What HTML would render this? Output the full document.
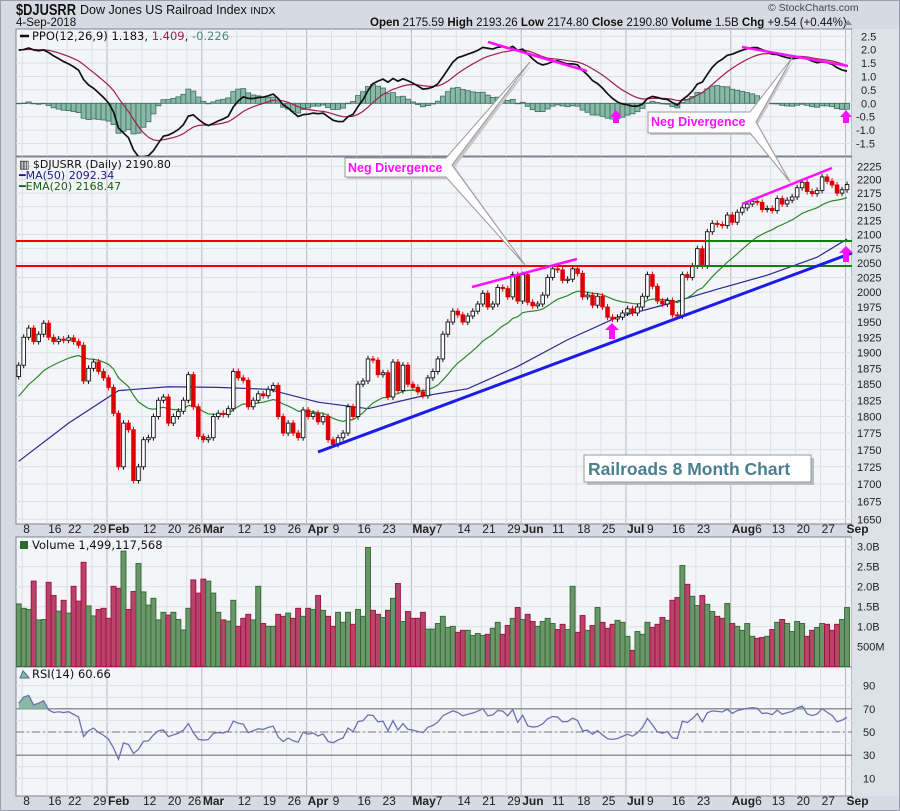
<!DOCTYPE html>
<html><head><meta charset="utf-8"><style>
html,body{margin:0;padding:0;background:#d5dae3;}
svg{display:block;font-family:"Liberation Sans",sans-serif;}
</style></head><body>
<svg id="chart" width="900" height="811" viewBox="0 0 900 811" xmlns="http://www.w3.org/2000/svg">
<defs>
<clipPath id="cPrice"><rect x="16" y="157" width="836" height="367"/></clipPath>
<clipPath id="cPPO"><rect x="16" y="29" width="836" height="127"/></clipPath>
<clipPath id="cVol"><rect x="16" y="537" width="836" height="130"/></clipPath>
<clipPath id="cRSI"><rect x="16" y="667" width="836" height="129"/></clipPath>
</defs>
<rect x="0" y="0" width="900" height="811" fill="#d5dae3"/>
<rect x="0.5" y="0.5" width="899" height="810" fill="none" stroke="#9aa0ab"/>
<g>
<text x="16" y="15" font-size="16" font-weight="bold" fill="#111" textLength="60" lengthAdjust="spacingAndGlyphs">$DJUSRR</text>
<text x="80" y="14" font-size="12.5" fill="#111">Dow Jones US Railroad Index <tspan font-size="10.5">INDX</tspan></text>
<text x="16" y="26" font-size="11.5" fill="#111">4-Sep-2018</text>
<text x="768" y="11" font-size="10.5" fill="#444">© StockCharts.com</text>
<text x="370" y="26" font-size="11.5" fill="#111"><tspan font-weight="bold">Open</tspan> 2175.59  <tspan font-weight="bold">High</tspan> 2193.26  <tspan font-weight="bold">Low</tspan> 2174.80  <tspan font-weight="bold">Close</tspan> 2190.80  <tspan font-weight="bold">Volume</tspan> 1.5B  <tspan font-weight="bold">Chg</tspan> +9.54 (+0.44%)</text>
<path d="M844 25 L848 20 L852 25 Z" fill="#8890a0"/>
</g>
<g id="panels"></g>
<g id="grid"></g>
<g id="marks"></g>
<g id="annot">
<line x1="16" y1="241" x2="705" y2="241" stroke="#f00000" stroke-width="2"/>
<line x1="705" y1="241" x2="852" y2="241" stroke="#108010" stroke-width="2"/>
<line x1="16" y1="266" x2="693" y2="266" stroke="#f00000" stroke-width="2"/>
<line x1="693" y1="266" x2="852" y2="266" stroke="#108010" stroke-width="2"/>
<line x1="318" y1="452" x2="852" y2="253" stroke="#1c1ce8" stroke-width="3"/>
<line x1="472" y1="287" x2="577" y2="259" stroke="#ff10ff" stroke-width="2.5"/>
<line x1="742" y1="204" x2="832" y2="168" stroke="#ff10ff" stroke-width="2.5"/>
<line x1="488" y1="42" x2="587" y2="71" stroke="#ff10ff" stroke-width="2.5"/>
<line x1="742" y1="47" x2="848" y2="66" stroke="#ff10ff" stroke-width="2.5"/>
<path d="M616 110 L622 117 L619 117 L619 123 L613 123 L613 117 L610 117 Z" fill="#ff10ff"/>
<path d="M846 110 L852 117 L849 117 L849 123 L843 123 L843 117 L840 117 Z" fill="#ff10ff"/>
<path d="M612 323 L619 330 L615 330 L615 339 L609 339 L609 330 L605 330 Z" fill="#ff10ff"/>
<path d="M846 246 L853 253 L849 253 L849 262 L843 262 L843 253 L839 253 Z" fill="#ff10ff"/>
<g>
<path d="M347 160 L448 160 L532 64 L455 167 L527 267 L448 179 L347 179 Z" fill="#c8c8c8"/>
<path d="M345 158 L446 158 L530 62 L452 165 L525 265 L446 177 L345 177 Z" fill="#fff" stroke="#999" stroke-width="1"/>
<text x="348" y="172" font-size="12.5" font-weight="bold" fill="#ff10ff">Neg Divergence</text>
</g>
<g>
<path d="M650 114 L752 114 L794 60 L758 124 L792 184 L752 135 L650 135 Z" fill="#c8c8c8"/>
<path d="M648 112 L750 112 L792 58 L756 122 L790 182 L750 133 L648 133 Z" fill="#fff" stroke="#999" stroke-width="1"/>
<text x="651" y="126" font-size="12.5" font-weight="bold" fill="#ff10ff">Neg Divergence</text>
</g>
<g>
<rect x="587" y="458" width="227" height="27" fill="#b8bcc4"/>
<rect x="584" y="455" width="227" height="27" fill="#fff" stroke="#999"/>
<text x="588" y="475" font-size="17.5" font-weight="bold" fill="#4a7f8f">Railroads 8 Month Chart</text>
</g>
</g>
</svg>
<script>
const closes=[1880,1925,1940,1918,1930,1948,1925,1918,1922,1920,1924,1918,1912,1855,1875,1885,1870,1860,1845,1805,
1725,1790,1780,1705,1725,1765,1768,1800,1825,1830,1790,1800,1808,1825,1865,1815,1770,1765,1768,1800,
1805,1803,1812,1870,1860,1856,1815,1825,1835,1832,1842,1848,1800,1775,1790,1775,1768,1810,1800,1805,
1792,1800,1765,1758,1768,1775,1815,1800,1850,1855,1890,1888,1865,1868,1830,1885,1840,1880,1850,1845,
1838,1832,1860,1870,1890,1930,1950,
1968,1962,1950,1960,1968,1980,1998,1975,1980,2008,2006,1992,2030,1985,2030,1983,1977,1980,1995,2025,
2040,2038,2020,2022,2040,2032,1992,1995,1978,1993,1975,1958,1955,1958,1965,1972,1965,1975,1993,2030,
2010,1985,1980,1986,1962,1960,2030,2025,2045,2075,2045,2105,2120,2118,2116,2135,2122,2140,2148,2155,
2160,2158,2145,2147,2143,2165,2155,2162,2168,2185,2195,2178,2174,2180,2205,2197,2190,2175,2181.26,2190.8];
const firstOpen=1862;
const volumes=[1.57,1.46,1.43,2.14,1.17,1.18,2.11,1.78,1.39,1.66,1.34,2.01,1.64,2.61,1.52,1.27,1.43,1.46,1.21,2.01,
1.96,2.89,1.43,1.88,2.58,1.87,1.54,1.71,1.17,1.36,1.29,1.36,1.18,0.92,1.46,2.17,1.84,2.19,2.14,1.84,
1.36,1.17,1.14,1.66,1.01,1.21,1.31,1.17,2.01,1.08,1.01,1.01,1.31,1.26,1.34,1.21,1.46,1.26,1.46,1.43,
1.78,1.41,1.26,1.01,1.36,1.11,1.36,1.06,1.43,1.26,2.98,1.41,1.31,1.23,1.41,1.71,2.08,1.13,1.38,1.21,
1.21,1.36,0.94,0.94,1.08,1.26,0.98,
1.01,0.86,0.91,0.91,0.78,0.83,0.78,0.81,0.96,1.11,0.81,1.03,1.21,1.48,1.18,1.31,1.13,1.01,1.13,1.21,
1.08,0.93,1.06,0.93,2.01,0.86,1.28,0.91,1.03,1.48,1.11,0.96,1.06,1.16,1.11,0.76,0.41,0.88,0.81,1.11,
0.98,1.06,1.23,1.16,1.66,1.73,2.53,2.06,1.76,1.53,1.78,1.56,1.38,1.26,1.21,1.58,1.08,1.01,0.91,1.08,
0.76,0.71,0.73,0.76,0.93,1.11,1.18,1.08,0.88,1.13,1.08,0.76,0.91,0.98,1.08,1.06,0.91,1.06,1.18,1.48];
const ma50Days=[0,10,20,30,40,50,60,70,80,90,100,110,120,130,140,150,160,166];
const ma50Values=[1733,1790,1840,1846,1845,1842,1822,1812,1830,1843,1878,1921,1958,1980,2005,2029,2060,2092];
const ema20Seed=1826, ema12Seed=1885, ema26Seed=1845, signalSeed=2.0, rsiGainSeed=9, rsiLossSeed=3.5;
const priceTicks=[1650,1675,1700,1725,1750,1775,1800,1825,1850,1875,1900,1925,1950,1975,2000,2025,2050,2075,2100,2125,2150,2175,2200,2225];
const ppoTicks=[-1.5,-1.0,-0.5,0.0,0.5,1.0,1.5,2.0,2.5];
const volTicks=[0.5,1.0,1.5,2.0,2.5,3.0];
const volTickLabels=["500M","1.0B","1.5B","2.0B","2.5B","3.0B"];
const rsiTicks=[10,30,50,70,90];
const dateTickDays=[1,6,10,15,18,25,30,34,37,44,49,54,58,63,68,73,79,83,88,93,98,101,107,112,117,122,126,131,136,143,146,151,156,161,166];
const dateTickLabels=["8","16","22","29","Feb","12","20","26","Mar","12","19","26","Apr","9","16","23","May","7","14","21","29","Jun","11","18","25","Jul","9","16","23","Aug","6","13","20","27","Sep"];

const NS="http://www.w3.org/2000/svg";
function mk(parent,tag,attrs,text){const e=document.createElementNS(NS,tag);for(const k in attrs)e.setAttribute(k,attrs[k]);if(text!==undefined)e.textContent=text;parent.appendChild(e);return e;}
function xD(i){return 18.7+i*4.99;}
function yP(p){return 166.3+1180.6*(7.7075-Math.log(p));}
function yPPO(v){return 103.3-v*26.8;}
function yV(b){return 666.7-b*40;}
function yR(r){return 732-(r-50)*1.16;}

const panels=document.getElementById('panels'),grid=document.getElementById('grid'),marks=document.getElementById('marks');
const P=[["ppo-panel",29,127],["price-panel",157,367],["volume-panel",537,130],["rsi-panel",667,129]];
P.forEach(p=>{const r=mk(panels,'rect',{x:16,y:p[1],width:836,height:p[2],fill:'#f4f5f9',stroke:'#7c8490','stroke-width':1});

});
const lc=mk(panels,'rect',{x:852,y:29,width:47,height:767,fill:'#dde1e8'});



const months=["Feb","Mar","Apr","May","Jun","Jul","Aug","Sep"];
const lastEnd={533:0,805:0};
dateTickDays.forEach((d,k)=>{const x=xD(d)-1.5;const isM=months.includes(dateTickLabels[k]);
P.forEach(p=>{const l=mk(grid,'line',{x1:x,y1:p[1],x2:x,y2:p[1]+p[2],stroke:isM?'#b4b8c2':'#dcdfe6','stroke-width':1});

});
[533,805].forEach(yy=>{const tx=Math.max(x+1,lastEnd[yy]);
const t=mk(grid,'text',{x:tx,y:yy,'font-size':12,fill:'#222','font-weight':isM?'bold':'normal'},dateTickLabels[k]);


lastEnd[yy]=tx+t.getComputedTextLength();});});
priceTicks.forEach(v=>{const y=yP(v);const l=mk(grid,'line',{x1:16,y1:y,x2:852,y2:y,stroke:'#dcdfe6'});


const t=mk(grid,'text',{x:857,y:y+4,'font-size':11,fill:'#222'},String(v));

});
ppoTicks.forEach(v=>{const y=yPPO(v);const l=mk(grid,'line',{x1:16,y1:y,x2:852,y2:y,stroke:'#dcdfe6'});


const t=mk(grid,'text',{x:v<0?856:861,y:y+4,'font-size':11,fill:'#222'},v.toFixed(1));

});
volTicks.forEach((v,k)=>{const y=yV(v);const l=mk(grid,'line',{x1:16,y1:y,x2:852,y2:y,stroke:'#dcdfe6'});


const t=mk(grid,'text',{x:857,y:y+4,'font-size':11,fill:'#222'},volTickLabels[k]);

});
for(let r=10;r<=90;r+=10){const y=yR(r);const l=mk(grid,'line',{x1:16,y1:y,x2:852,y2:y,stroke:'#dcdfe6'});

}
rsiTicks.forEach(v=>{const y=yR(v);const t=mk(grid,'text',{x:863,y:y+4,'font-size':11,fill:'#222'},String(v));

});
[70,30].forEach(v=>{const l=mk(grid,'line',{x1:16,y1:yR(v),x2:852,y2:yR(v),stroke:'#777','stroke-width':1.2});

});
const mid=mk(grid,'line',{x1:16,y1:yR(50),x2:852,y2:yR(50),stroke:'#777','stroke-dasharray':'8,3,2,3'});



const N=closes.length;
const opens=closes.map((c,i)=>i===0?firstOpen:closes[i-1]);
let e20=ema20Seed,e12=ema12Seed,e26=ema26Seed,sig=signalSeed,ag=rsiGainSeed,al=rsiLossSeed;
const ema20=[],ppo=[],signal=[],rsi=[];
closes.forEach((c,i)=>{e20=e20+(c-e20)*2/21;ema20.push(e20);
e12=e12+(c-e12)*2/13;e26=e26+(c-e26)*2/27;const v=(e12-e26)/e26*100;ppo.push(v);sig=sig+(v-sig)*2/10;signal.push(sig);
const ch=c-opens[i];ag=(ag*13+Math.max(ch,0))/14;al=(al*13+Math.max(-ch,0))/14;rsi.push(100-100/(1+ag/al));});

const gP=mk(marks,'g',{'clip-path':'url(#cPPO)'});
const z=yPPO(0);
ppo.forEach((v,i)=>{const h=v-signal[i];const y=yPPO(h);const b=mk(gP,'rect',{x:xD(i)-2.5,y:Math.min(y,z),width:5,height:Math.max(0.5,Math.abs(y-z)),fill:'#8ab8a6',stroke:'#3b6e5e','stroke-width':0.8});

});
const sl=mk(gP,'polyline',{points:signal.map((v,i)=>xD(i)+','+yPPO(v)).join(' '),fill:'none',stroke:'#a0204a','stroke-width':1.2});


const pl=mk(gP,'polyline',{points:ppo.map((v,i)=>xD(i)+','+yPPO(v)).join(' '),fill:'none',stroke:'#111','stroke-width':1.7});


const pLeg=mk(marks,'text',{x:32,y:40,'font-size':11.5,fill:'#111','font-family':'DejaVu Sans, sans-serif'});


pLeg.innerHTML='PPO(12,26,9) 1.183, <tspan fill="#a0204a">1.409</tspan>, <tspan fill="#4a8a7a">-0.226</tspan>';
mk(marks,'line',{x1:20,y1:36,x2:29,y2:36,stroke:'#111','stroke-width':2.5});

const gPr=mk(marks,'g',{'clip-path':'url(#cPrice)'});
const maL=mk(gPr,'polyline',{points:ma50Values.map((v,k)=>xD(ma50Days[k])+','+yP(v)).join(' '),fill:'none',stroke:'#2a2a90','stroke-width':1.2});


const emL=mk(gPr,'polyline',{points:ema20.map((v,i)=>xD(i)+','+yP(v)).join(' '),fill:'none',stroke:'#2a8a2a','stroke-width':1.2});


closes.forEach((c,i)=>{const o=opens[i];const x=xD(i);const yo=yP(o),yc=yP(c);const down=c<o;const col=down?'#dd0000':'#111';
const top=Math.min(yo,yc),bot=Math.max(yo,yc);
const w=mk(gPr,'line',{x1:x,y1:top-3,x2:x,y2:bot+3,stroke:col,'stroke-width':1});


const b=mk(gPr,'rect',{x:x-1.8,y:top,width:3.6,height:Math.max(1,bot-top),fill:down?'#dd0000':'#fff',stroke:col,'stroke-width':0.9});

});
const lg=mk(marks,'g',{'font-size':11,'font-family':'DejaVu Sans, sans-serif'});


mk(lg,'text',{x:19,y:168,fill:'#111'},'▥ $DJUSRR (Daily) 2190.80');
mk(lg,'text',{x:19,y:179,fill:'#1c1c88'},'━MA(50) 2092.34');
mk(lg,'text',{x:19,y:190,fill:'#176017'},'━EMA(20) 2168.47');

const gV=mk(marks,'g',{'clip-path':'url(#cVol)'});
volumes.forEach((v,i)=>{const up=closes[i]>=opens[i];const y=yV(v);
const b=mk(gV,'rect',{x:xD(i)-2.5,y:y,width:4.99,height:666.7-y,fill:up?'#6b966b':'#b8446c',stroke:up?'#2d6a2d':'#a0103c','stroke-width':0.9});

});
const vl=mk(marks,'text',{x:32,y:549,'font-size':11.5,fill:'#111','font-family':'DejaVu Sans, sans-serif'},'Volume 1,499,117,568');


mk(marks,'rect',{x:20,y:541,width:8,height:8,fill:'#2d6a2d'});

const gR=mk(marks,'g',{'clip-path':'url(#cRSI)'});
const y70=yR(70);
const fillPts=rsi.map((v,i)=>xD(i)+','+Math.min(yR(v),y70)).join(' ');
const rf=mk(gR,'polygon',{points:xD(0)+','+y70+' '+fillPts+' '+xD(N-1)+','+y70,fill:'#8ab8a6'});


const rl=mk(gR,'polyline',{points:rsi.map((v,i)=>xD(i)+','+yR(v)).join(' '),fill:'none',stroke:'#6a72b0','stroke-width':1.3});


const rlg=mk(marks,'text',{x:32,y:678,'font-size':11.5,fill:'#111','font-family':'DejaVu Sans, sans-serif'},'RSI(14) 60.66');


mk(marks,'path',{d:'M20 678 L23 671 L26 674 L29 678 Z',fill:'#8ab8a6',stroke:'#4a6e8e'});
</script>
</body></html>
